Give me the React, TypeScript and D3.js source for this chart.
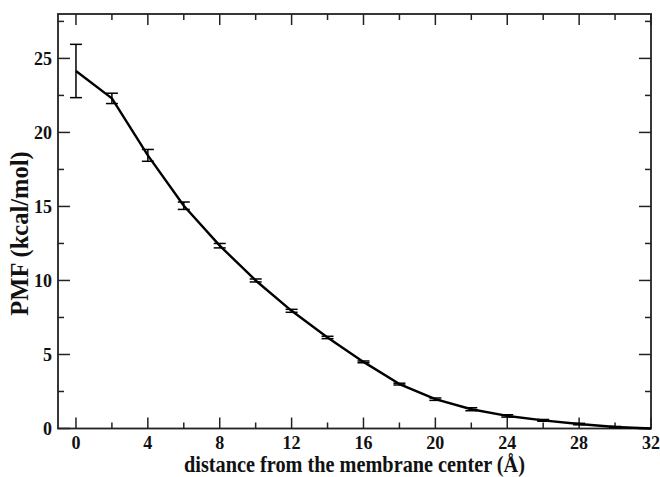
import React from "react";
import * as d3 from "d3";

const xs = [0, 2, 4, 6, 8, 10, 12, 14, 16, 18, 20, 22, 24, 26, 28, 30, 32];
const pmf = [24.15, 22.3, 18.45, 15.05, 12.35, 10.0, 7.95, 6.15, 4.5, 3.0, 1.98, 1.3, 0.85, 0.55, 0.3, 0.1, 0.0];
const errs = [1.8, 0.35, 0.4, 0.25, 0.15, 0.1, 0.1, 0.08, 0.06, 0.06, 0.08, 0.1, 0.08, 0.06, 0.05, 0.04, 0.0];
const xMajor = [0, 4, 8, 12, 16, 20, 24, 28, 32];
const xMinor = [2, 6, 10, 14, 18, 22, 26, 30];
const yMajor = [0, 5, 10, 15, 20, 25];
const yMinor = [2.5, 7.5, 12.5, 17.5, 22.5, 27.5];

const W = 660, H = 477;
const L = 58, R = 651, T = 14, B = 428.5;

export default function App() {
  const x = d3.scaleLinear().domain([-1, 32]).range([L, R]);
  const y = d3.scaleLinear().domain([0, 28]).range([B, T]);
  const line = d3.line<number>().x((_, i) => x(xs[i])).y((d) => y(d));
  const font = "'Liberation Serif', 'Times New Roman', serif";
  const axisColor = "#222";
  return (
    <svg width={W} height={H} style={{ position: "absolute", left: 0, top: 0 }}>
      <rect x={0} y={0} width={W} height={H} fill="#fff" />
      {xMajor.map((v) => (
        <g key={"xM" + v}>
          <line x1={x(v)} x2={x(v)} y1={B} y2={B - 11} stroke={axisColor} strokeWidth={1.5} />
          <line x1={x(v)} x2={x(v)} y1={T} y2={T + 11} stroke={axisColor} strokeWidth={1.5} />
          <text x={x(v)} y={449} textAnchor="middle" fontFamily={font} fontWeight="bold" fontSize={18} fill="#111">{v}</text>
        </g>
      ))}
      {xMinor.map((v) => (
        <g key={"xm" + v}>
          <line x1={x(v)} x2={x(v)} y1={B} y2={B - 6} stroke={axisColor} strokeWidth={1.5} />
          <line x1={x(v)} x2={x(v)} y1={T} y2={T + 6} stroke={axisColor} strokeWidth={1.5} />
        </g>
      ))}
      {yMajor.map((v) => (
        <g key={"yM" + v}>
          <line x1={L} x2={L + 12} y1={y(v)} y2={y(v)} stroke={axisColor} strokeWidth={1.5} />
          <line x1={R} x2={R - 12} y1={y(v)} y2={y(v)} stroke={axisColor} strokeWidth={1.5} />
          <text x={52} y={y(v) + 6.5} textAnchor="end" fontFamily={font} fontWeight="bold" fontSize={18} fill="#111">{v}</text>
        </g>
      ))}
      {yMinor.map((v) => (
        <g key={"ym" + v}>
          <line x1={L} x2={L + 6} y1={y(v)} y2={y(v)} stroke={axisColor} strokeWidth={1.5} />
          <line x1={R} x2={R - 6} y1={y(v)} y2={y(v)} stroke={axisColor} strokeWidth={1.5} />
        </g>
      ))}
      <rect x={L} y={T} width={R - L} height={B - T} fill="none" stroke={axisColor} strokeWidth={1.8} />
      {xs.map((v, i) =>
        errs[i] > 0 ? (
          <g key={"e" + v} stroke="#000" strokeWidth={1.5}>
            <line x1={x(v)} x2={x(v)} y1={y(pmf[i] - errs[i])} y2={y(pmf[i] + errs[i])} />
            <line x1={x(v) - 6} x2={x(v) + 6} y1={y(pmf[i] - errs[i])} y2={y(pmf[i] - errs[i])} />
            <line x1={x(v) - 6} x2={x(v) + 6} y1={y(pmf[i] + errs[i])} y2={y(pmf[i] + errs[i])} />
          </g>
        ) : null
      )}
      <path d={line(pmf) || ""} fill="none" stroke="#000" strokeWidth={2.4} strokeLinejoin="round" />
      <text x={354.5} y={472} textAnchor="middle" fontFamily={font} fontWeight="bold" fontSize={23}
        textLength={341} lengthAdjust="spacingAndGlyphs" fill="#111">
        distance from the membrane center (Å)
      </text>
      <text transform={`translate(28, 233.5) rotate(-90)`} textAnchor="middle" fontFamily={font} fontWeight="bold" fontSize={24.5} fill="#111">
        PMF (kcal/mol)
      </text>
    </svg>
  );
}
